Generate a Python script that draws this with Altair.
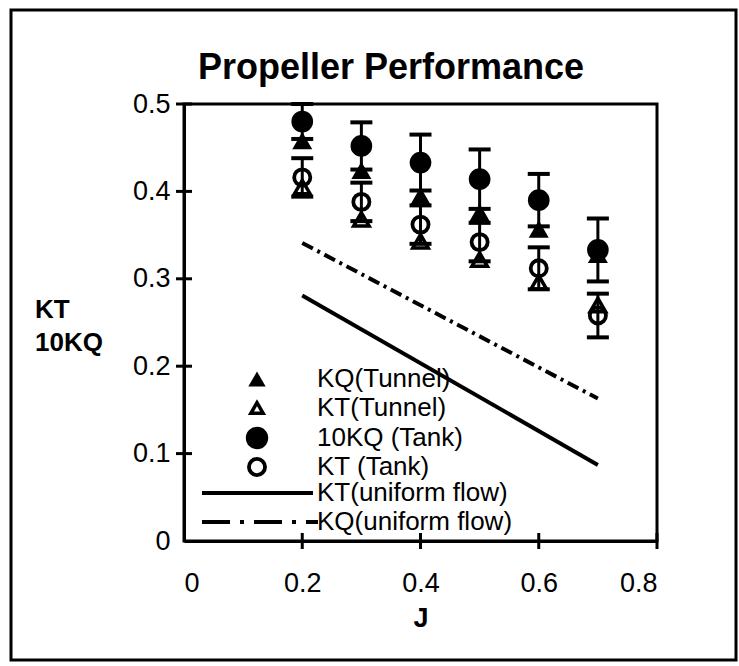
import altair as alt
import pandas as pd

# ---- data ----
J = [0.2, 0.3, 0.4, 0.5, 0.6, 0.7]
kq_tunnel = [0.458, 0.424, 0.395, 0.376, 0.357, 0.328]
kt_tunnel = [0.405, 0.368, 0.343, 0.322, 0.296, 0.270]
kq10_tank = [0.480, 0.452, 0.433, 0.414, 0.390, 0.333]
kt_tank = [0.416, 0.388, 0.362, 0.342, 0.312, 0.258]
err_kq10_tank = [0.020, 0.027, 0.032, 0.034, 0.030, 0.036]
err_kt_tank = [0.022, 0.022, 0.022, 0.022, 0.024, 0.025]

J_line = [0.2, 0.7]
kt_uniform = [0.281, 0.087]
kq_uniform = [0.341, 0.163]

x_ticks = [0, 0.2, 0.4, 0.6, 0.8]
y_ticks = [0, 0.1, 0.2, 0.3, 0.4, 0.5]

title_text = "Propeller Performance"
y_title = ["KT", "10KQ"]
x_title = "J"
legend_labels = ["KQ(Tunnel)", "KT(Tunnel)", "10KQ (Tank)", "KT (Tank)",
                 "KT(uniform flow)", "KQ(uniform flow)"]

FONT = "Liberation Sans"

# ---- tables ----
def series_df(vals, err=None):
    d = pd.DataFrame({"J": J, "v": vals})
    if err is not None:
        d["lo"] = [a - b for a, b in zip(vals, err)]
        d["hi"] = [a + b for a, b in zip(vals, err)]
    return d

df_kq_tun = series_df(kq_tunnel)
df_kt_tun = series_df(kt_tunnel)
df_kq_tank = series_df(kq10_tank, err_kq10_tank)
df_kt_tank = series_df(kt_tank, err_kt_tank)
df_kt_uni = pd.DataFrame({"J": J_line, "v": kt_uniform})
df_kq_uni = pd.DataFrame({"J": J_line, "v": kq_uniform})
df_xt = pd.DataFrame({"J": [t for t in x_ticks if t > 0], "v": 0.0})
df_yt = pd.DataFrame({"J": 0.0, "v": [t for t in y_ticks if t > 0]})

x_scale = alt.Scale(domain=[0, 0.8], nice=False)
y_scale = alt.Scale(domain=[0, 0.5], nice=False)
x_axis = alt.Axis(values=x_ticks, format=".1~f", title=x_title, ticks=False,
                  labelPadding=29, titlePadding=9)
y_axis = alt.Axis(values=y_ticks, format=".1~f", title=None, ticks=False,
                  labelPadding=14)

X = alt.X("J:Q", scale=x_scale, axis=x_axis)
Y = alt.Y("v:Q", scale=y_scale, axis=y_axis)

layers = []

# outer frame of the figure
one = pd.DataFrame({"a": [0]})
layers.append(alt.Chart(one).mark_rect(filled=False, stroke="black", strokeWidth=3).encode(
    x=alt.value(-173), x2=alt.value(552), y=alt.value(-94), y2=alt.value(556)))

# uniform flow lines
layers.append(alt.Chart(df_kt_uni).mark_line(color="black", strokeWidth=4).encode(x=X, y=Y))
layers.append(alt.Chart(df_kq_uni).mark_line(color="black", strokeWidth=4,
                                             strokeDash=[12, 5, 3, 5]).encode(x=X, y=Y))

# error bars
for d in (df_kq_tank, df_kt_tank):
    layers.append(alt.Chart(d).mark_rule(color="black", strokeWidth=3).encode(
        x=X, y=alt.Y("lo:Q", scale=y_scale, axis=y_axis), y2="hi:Q"))
    for col in ("lo", "hi"):
        layers.append(alt.Chart(d).mark_tick(color="black", orient="horizontal", opacity=1,
                                             size=22, thickness=4).encode(
            x=X, y=alt.Y(col + ":Q", scale=y_scale, axis=y_axis)))

# markers
layers.append(alt.Chart(df_kq_tun).mark_point(shape="triangle-up", filled=True, color="black",
                                              size=400, opacity=1).encode(x=X, y=Y))
layers.append(alt.Chart(df_kt_tun).mark_point(shape="triangle-up", filled=False, color="black",
                                              size=240, strokeWidth=3.5, opacity=1).encode(x=X, y=Y))
layers.append(alt.Chart(df_kq_tank).mark_point(shape="circle", filled=True, color="black",
                                               size=470, opacity=1).encode(x=X, y=Y))
layers.append(alt.Chart(df_kt_tank).mark_point(shape="circle", filled=False, color="black",
                                               size=260, strokeWidth=3.8, opacity=1).encode(x=X, y=Y))

# crossing axis ticks
layers.append(alt.Chart(df_xt).mark_tick(color="black", orient="vertical", size=16, opacity=1,
                                         thickness=3).encode(x=X, y=Y))
layers.append(alt.Chart(df_yt).mark_tick(color="black", orient="horizontal", size=16, opacity=1,
                                         thickness=3).encode(x=X, y=Y))

# legend (inside plot, lower left)
rows_y = [275, 304, 334, 363, 389, 418]
sym_x = 73
lab_x = 133
leg_syms = [
    dict(shape="triangle-up", filled=True, size=300, strokeWidth=1),
    dict(shape="triangle-up", filled=False, size=150, strokeWidth=3.5),
    dict(shape="circle", filled=True, size=500, strokeWidth=1),
    dict(shape="circle", filled=False, size=260, strokeWidth=3.8),
]
for i, s in enumerate(leg_syms):
    layers.append(alt.Chart(one).mark_point(color="black", opacity=1, **s).encode(
        x=alt.value(sym_x), y=alt.value(rows_y[i])))
layers.append(alt.Chart(one).mark_rule(color="black", strokeWidth=4).encode(
    x=alt.value(18), x2=alt.value(129), y=alt.value(rows_y[4])))
layers.append(alt.Chart(one).mark_rule(color="black", strokeWidth=4,
                                       strokeDash=[28, 10, 4, 10]).encode(
    x=alt.value(18), x2=alt.value(134), y=alt.value(rows_y[5])))
for i, lab in enumerate(legend_labels):
    layers.append(alt.Chart(one).mark_text(align="left", baseline="middle", font=FONT,
                                           fontSize=26, color="black").encode(
        x=alt.value(lab_x), y=alt.value(rows_y[i]), text=alt.value(lab)))

# chart title
layers.append(alt.Chart(one).mark_text(align="center", baseline="alphabetic", font=FONT,
                                       fontSize=36, fontWeight="bold", color="black").encode(
    x=alt.value(207), y=alt.value(-25), text=alt.value(title_text)))

# y-axis title (two horizontal lines)
for yy, t in zip([214, 247], y_title):
    layers.append(alt.Chart(one).mark_text(align="left", baseline="alphabetic", font=FONT,
                                           fontSize=26, fontWeight="bold", color="black").encode(
        x=alt.value(-149), y=alt.value(yy), text=alt.value(t)))

chart = alt.layer(*layers).properties(
    width=473, height=437,
    autosize=alt.AutoSizeParams(type="none"),
    padding={"left": 184, "top": 104, "right": 82, "bottom": 125},
    background="white",
).configure_view(stroke="black", strokeWidth=3).configure_axis(
    domainColor="black", domainWidth=3, grid=False,
    labelFont=FONT, labelFontSize=27, labelColor="black",
    titleFont=FONT, titleFontSize=27, titleFontWeight="bold", titleColor="black",
)

chart.save("out.html", embed_options={"renderer": "svg", "actions": False})
